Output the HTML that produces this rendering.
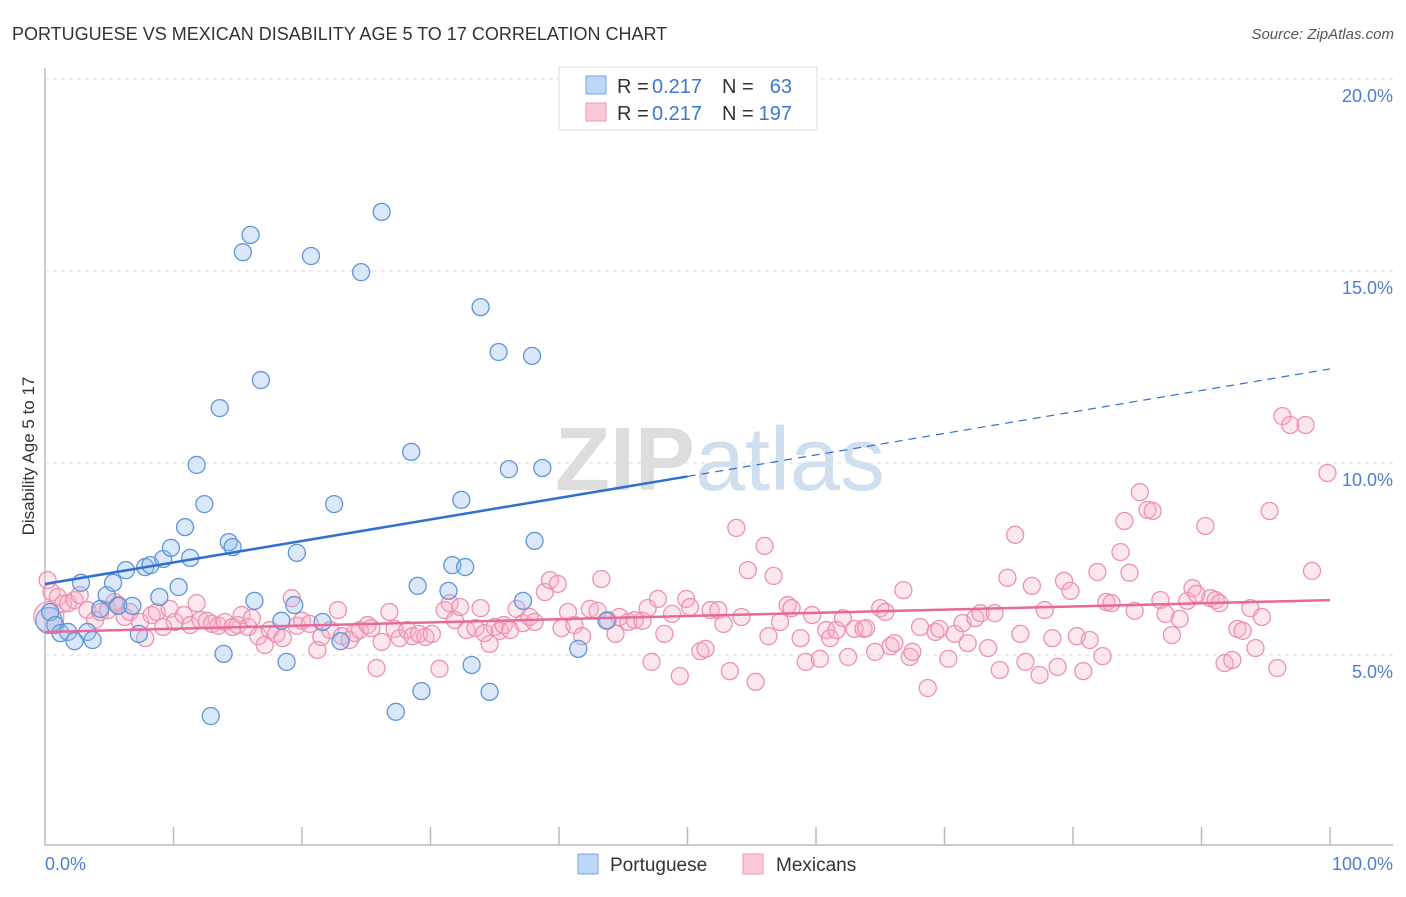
<!DOCTYPE html>
<html><head><meta charset="utf-8"><style>
body{margin:0;background:#fff;font-family:"Liberation Sans",sans-serif;}
svg text{font-family:"Liberation Sans",sans-serif;}
</style></head><body>
<svg id="chart" width="1406" height="892" viewBox="0 0 1406 892">
<text x="12" y="40" font-size="18" fill="#333">PORTUGUESE VS MEXICAN DISABILITY AGE 5 TO 17 CORRELATION CHART</text>
<text x="1394" y="39" font-size="15" fill="#555" font-style="italic" text-anchor="end">Source: ZipAtlas.com</text>
<text x="720" y="490" font-size="90" fill="#e4e4e4" text-anchor="middle" font-family="Liberation Serif"><tspan font-weight="bold" fill="#ddd">ZIP</tspan><tspan fill="#cfdff0">atlas</tspan></text>
<g id="grid"></g>
<g id="axes"></g>
<g id="pts"></g>
<g id="lines"></g>
<text transform="translate(34,456) rotate(-90)" font-size="17" fill="#333" text-anchor="middle">Disability Age 5 to 17</text>
<text x="45" y="870" font-size="18" fill="#4a7fd4">0.0%</text>
<text x="1393" y="870" font-size="18" fill="#4a7fd4" text-anchor="end">100.0%</text>
<g>
<rect x="559" y="67" width="258" height="63" fill="#fff" stroke="#ddd"/>
<rect x="586" y="76" width="20" height="18" fill="#bcd6f6" stroke="#7aa6de"/>
<rect x="586" y="103" width="20" height="18" fill="#fbc9d8" stroke="#ec9ab4"/>
<text x="617" y="93" font-size="20" fill="#333">R =</text>
<text x="652" y="93" font-size="20" fill="#3a78d0">0.217</text>
<text x="722" y="93" font-size="20" fill="#333">N =</text>
<text x="792" y="93" font-size="20" fill="#3a78d0" text-anchor="end">63</text>
<text x="617" y="120" font-size="20" fill="#333">R =</text>
<text x="652" y="120" font-size="20" fill="#3a78d0">0.217</text>
<text x="722" y="120" font-size="20" fill="#333">N =</text>
<text x="792" y="120" font-size="20" fill="#3a78d0" text-anchor="end">197</text>
</g>
<g>
<rect x="578" y="854" width="20" height="20" fill="#bcd6f6" stroke="#7aa6de"/>
<text x="610" y="871" font-size="19" fill="#333">Portuguese</text>
<rect x="743" y="854" width="20" height="20" fill="#fbc9d8" stroke="#ec9ab4"/>
<text x="776" y="871" font-size="19" fill="#333">Mexicans</text>
</g>
</svg>
<script>
const yTicks=[5,10,15,20];
const yTickLabels=["5.0%","10.0%","15.0%","20.0%"];
const blueX=[0.4,0.8,1.2,1.8,2.3,2.8,3.3,3.7,4.3,4.8,5.3,5.7,6.3,6.8,7.3,7.8,8.2,8.9,9.2,9.8,10.4,10.9,11.3,11.8,12.4,12.9,13.6,13.9,14.3,14.6,15.4,16.0,16.3,16.8,18.4,18.8,19.4,19.6,20.7,21.6,22.5,23.0,24.6,26.2,27.3,28.5,29.0,29.3,31.4,31.7,32.4,32.7,33.2,33.9,34.6,35.3,36.1,37.2,37.9,38.1,38.7,41.5,43.7];
const blueY=[6.12,5.78,5.57,5.6,5.36,6.88,5.6,5.39,6.2,6.56,6.88,6.28,7.21,6.28,5.55,7.29,7.34,6.51,7.5,7.79,6.77,8.33,7.53,9.95,8.93,3.41,11.43,5.03,7.94,7.81,15.49,15.94,6.41,12.16,5.89,4.82,6.3,7.66,15.39,5.86,8.93,5.36,14.97,16.54,3.52,10.29,6.8,4.06,6.67,7.34,9.04,7.29,4.74,14.06,4.04,12.89,9.84,6.41,12.79,7.97,9.87,5.16,5.89];
const pinkX=[0.2,0.5,1.0,1.4,1.8,2.3,2.7,3.3,3.9,4.3,4.9,5.4,5.7,6.2,6.6,7.4,7.8,8.3,8.7,9.2,9.7,10.1,10.8,11.3,11.8,12.1,12.6,13.0,13.5,14.0,14.6,15.0,15.3,15.8,16.1,16.6,17.1,17.5,18.0,18.5,19.2,19.6,20.0,20.6,21.2,21.5,22.2,22.8,23.1,23.7,24.1,24.5,25.1,25.4,25.8,26.2,26.8,27.2,27.6,28.2,28.6,29.1,29.6,30.1,30.7,31.1,31.5,31.9,32.3,32.8,33.5,33.9,34.2,34.6,35.0,35.4,35.7,36.2,36.7,37.2,37.7,38.1,38.9,39.3,39.9,40.2,40.7,41.2,41.8,42.4,43.0,43.3,43.8,44.4,44.7,45.4,45.9,46.5,46.9,47.2,47.7,48.2,48.8,49.4,49.9,50.2,51.0,51.4,51.8,52.4,52.8,53.3,53.8,54.2,54.7,55.3,56.0,56.3,56.7,57.2,57.8,58.1,58.8,59.2,59.7,60.3,60.8,61.1,61.6,62.1,62.5,63.0,63.7,63.9,64.6,65.0,65.4,65.8,66.1,66.8,67.3,67.5,68.1,68.7,69.3,69.6,70.3,70.8,71.4,71.8,72.4,72.8,73.4,73.9,74.3,74.9,75.5,75.9,76.3,76.8,77.4,77.8,78.4,78.8,79.3,79.8,80.3,80.8,81.3,81.9,82.3,82.6,83.0,83.7,84.0,84.4,84.8,85.2,85.8,86.2,86.8,87.2,87.7,88.3,88.9,89.3,89.6,90.3,90.7,91.1,91.4,91.8,92.4,92.8,93.2,93.8,94.2,94.7,95.3,95.9,96.3,96.9,98.1,98.6,99.8];
const pinkY=[6.95,6.64,6.51,6.33,6.35,6.43,6.56,6.17,5.91,6.12,6.17,6.38,6.30,5.99,6.12,5.86,5.44,6.04,6.12,5.73,6.20,5.86,6.04,5.78,6.35,5.91,5.89,5.81,5.76,5.86,5.73,5.78,6.04,5.73,5.96,5.49,5.26,5.65,5.55,5.44,6.48,5.76,5.89,5.81,5.13,5.47,5.65,6.17,5.49,5.39,5.57,5.65,5.78,5.70,4.66,5.34,6.12,5.68,5.44,5.65,5.49,5.55,5.47,5.55,4.64,6.17,6.35,5.91,6.25,5.65,5.70,6.22,5.57,5.29,5.73,5.63,5.78,5.65,6.20,5.83,5.99,5.86,6.64,6.95,6.85,5.70,6.12,5.78,5.49,6.20,6.15,6.98,5.91,5.55,5.99,5.86,5.91,5.89,6.22,4.82,6.46,5.55,6.07,4.45,6.46,6.25,5.10,5.16,6.17,6.17,5.81,4.58,8.31,5.99,7.21,4.30,7.84,5.49,7.06,5.86,6.30,6.22,5.44,4.82,6.04,4.90,5.65,5.44,5.65,5.96,4.95,5.68,5.68,5.70,5.08,6.22,6.12,5.23,5.31,6.69,4.95,5.08,5.73,4.14,5.60,5.68,4.90,5.55,5.83,5.31,5.96,6.09,5.18,6.09,4.61,7.01,8.13,5.55,4.82,6.80,4.48,6.17,5.44,4.69,6.93,6.67,5.49,4.58,5.39,7.16,4.97,6.38,6.35,7.68,8.49,7.14,6.15,9.24,8.78,8.75,6.43,6.07,5.52,5.94,6.41,6.74,6.59,8.36,6.48,6.43,6.35,4.79,4.87,5.68,5.63,6.22,5.18,5.99,8.75,4.66,11.22,10.99,10.99,7.19,9.74];
const blueTrend=[6.85,12.45];
const pinkTrend=[5.6,6.43];
const NS='http://www.w3.org/2000/svg';
const X0=45,X1=1330,Y0=847,PPU=38.4;
const sx=v=>X0+(X1-X0)*v/100;
const sy=v=>Y0-v*PPU;
function mk(tag,attrs,parent){const e=document.createElementNS(NS,tag);for(const k in attrs)e.setAttribute(k,attrs[k]);parent.appendChild(e);return e;}
const grid=document.getElementById('grid'),axes=document.getElementById('axes'),pts=document.getElementById('pts'),lines=document.getElementById('lines');
yTicks.forEach((t,i)=>{
 const l=mk('line',{x1:45,x2:1393,y1:sy(t),y2:sy(t),stroke:'#ddd','stroke-dasharray':'4,4'},grid);
 
 
 const tx=mk('text',{x:1393,y:sy(t)+23,'font-size':18,fill:'#4a7fd4','text-anchor':'end'},grid);
 tx.textContent=yTickLabels[i];
 
 
});
const ya=mk('line',{x1:45,x2:45,y1:68,y2:846,stroke:'#bbb','stroke-width':1.5},axes);


const xa=mk('line',{x1:45,x2:1393,y1:845,y2:845,stroke:'#bbb','stroke-width':1.5},axes);


for(let k=1;k<=10;k++){
 const t=mk('line',{x1:sx(k*10),x2:sx(k*10),y1:827,y2:845,stroke:'#bbb','stroke-width':1.5},axes);
 
 
}
function dot(x,y,r,fill,stroke,name){
 const c=mk('circle',{cx:sx(x),cy:sy(y),r:r,fill:fill,stroke:stroke,'stroke-width':1.3},pts);
 
 
}
dot(0.3,6.0,15,'rgba(248,170,195,0.3)','#ec9ab4','mexicans-point');
dot(0.3,5.9,13,'rgba(160,196,240,0.35)','#6fa0dc','portuguese-point');
pinkX.forEach((x,i)=>dot(x,pinkY[i],8.5,'rgba(248,175,198,0.3)','#ec92af','mexicans-point'));
blueX.forEach((x,i)=>dot(x,blueY[i],8.5,'rgba(150,190,240,0.35)','#5f95d8','portuguese-point'));
const bAt=v=>blueTrend[0]+(blueTrend[1]-blueTrend[0])*v/100;
const b1=mk('line',{x1:sx(0),y1:sy(bAt(0)),x2:sx(50),y2:sy(bAt(50)),stroke:'#2f6fd0','stroke-width':2.5},lines);


const b2=mk('line',{x1:sx(50),y1:sy(bAt(50)),x2:sx(100),y2:sy(bAt(100)),stroke:'#2f6fd0','stroke-width':1.2,'stroke-dasharray':'8,6'},lines);


const p1=mk('line',{x1:sx(0),y1:sy(pinkTrend[0]),x2:sx(100),y2:sy(pinkTrend[1]),stroke:'#e8689a','stroke-width':2.5},lines);


</script>
</body></html>
